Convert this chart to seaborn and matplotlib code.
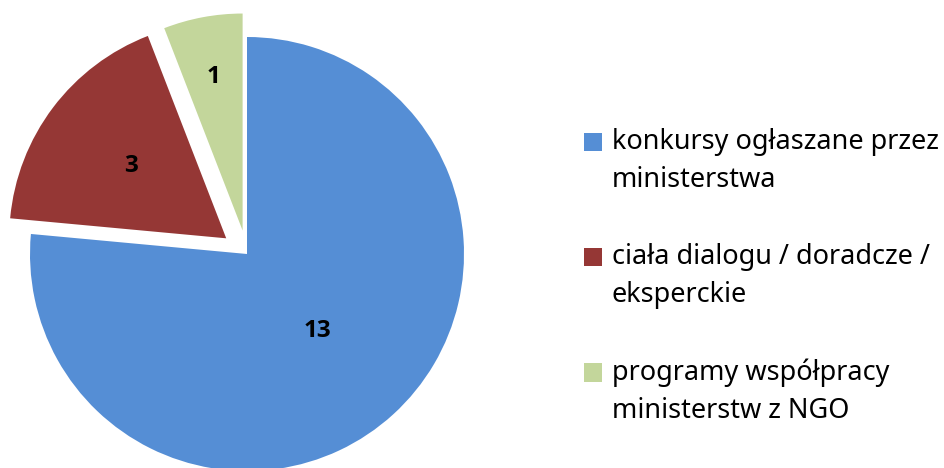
import numpy as np
import matplotlib
matplotlib.use("Agg")
import matplotlib.pyplot as plt
from matplotlib.patches import Rectangle
from matplotlib.legend_handler import HandlerPatch
import seaborn as sns

categories = ["konkursy ogłaszane przez\nministerstwa",
              "ciała dialogu / doradcze /\neksperckie",
              "programy współpracy\nministerstw z NGO"]
values = [13, 3, 1]
colors = ["#558ED5", "#953735", "#C3D69B"]
explode = [0.0, 0.12, 0.11]
label_dist = [0.48, 0.55, 0.72]

sns.set_theme(style="white")
plt.rcParams['font.family'] = ['Noto Sans', 'DejaVu Sans']
plt.rcParams['text.color'] = 'black'

W, H = 944, 468
cx, cy, R = 247, 254, 217
fig = plt.figure(figsize=(W / 100, H / 100), dpi=100)
ax = fig.add_axes([0, 0, 1, 1])

wedges, _ = ax.pie(values, colors=colors, startangle=90, counterclock=False,
                   explode=explode, radius=1.0,
                   wedgeprops=dict(linewidth=0, edgecolor="none"))

for w, v, d in zip(wedges, values, label_dist):
    theta = np.deg2rad((w.theta1 + w.theta2) / 2)
    c = w.center
    ax.text(c[0] + d * np.cos(theta), c[1] + d * np.sin(theta), str(v),
            ha="center", va="center", fontsize=17.5, fontweight="bold",
            family=["Open Sans", "DejaVu Sans"], color="black")

ax.set_xlim(-cx / R, (W - cx) / R)
ax.set_ylim(-(H - cy) / R, cy / R)
ax.set_aspect("equal", adjustable="box")
ax.axis("off")

FS = 19.5
shift = 0.74 * FS


def top_square(legend, orig_handle, xdescent, ydescent, width, height, fontsize):
    return Rectangle((-xdescent, -ydescent + shift), width, height)


leg = ax.legend(wedges, categories, loc="upper left", bbox_to_anchor=(584 / W, 1 - 128 / H),
                bbox_transform=fig.transFigure, frameon=False, fontsize=FS,
                handlelength=0.67, handleheight=0.67, handletextpad=0.35,
                labelspacing=1.82, borderpad=0, borderaxespad=0,
                handler_map={type(wedges[0]): HandlerPatch(patch_func=top_square)})
for t in leg.get_texts():
    t.set_linespacing(1.47)
    t.set_color("black")

fig.savefig("out.png", dpi=100)
